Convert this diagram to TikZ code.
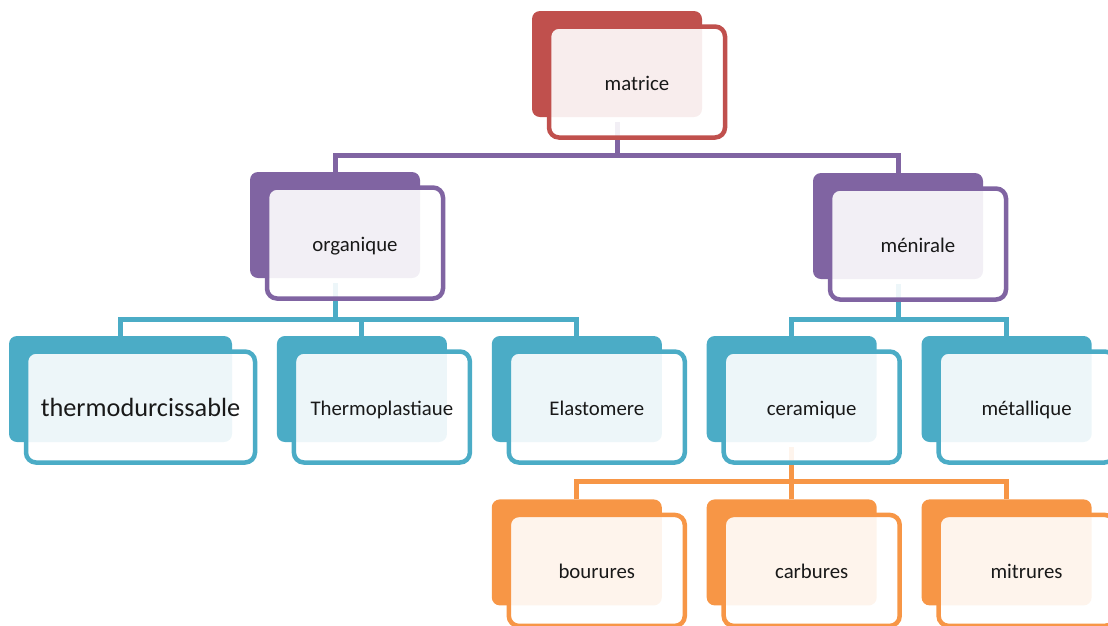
\documentclass[tikz,border=0pt]{standalone}
\usepackage{fontspec}
\setmainfont{Carlito}
\usetikzlibrary{positioning,backgrounds}

\definecolor{matred}{HTML}{C0504D}
\definecolor{lvlpurple}{HTML}{8064A2}
\definecolor{lvlcyan}{HTML}{4BACC6}
\definecolor{lvlorange}{HTML}{F79646}

\begin{document}
\begin{tikzpicture}[x=1pt,y=-1pt,
  font=\fontsize{20.8}{25}\selectfont,
  back/.style={rectangle,rounded corners=8pt,fill=#1,inner sep=0pt,
    minimum width=170pt,minimum height=106pt},
  card/.style={rectangle,rounded corners=10pt,draw=#1,line width=4.5pt,
    fill=white,fill opacity=0.9,text opacity=1,text=black!90,inner sep=0pt,
    text height=16pt,text depth=0pt,
    minimum width=176pt,minimum height=111pt},
  link/.style={draw=#1,line width=5pt},
  elbow/.style={to path={-- ++(0,#1) -| (\tikztotarget)}}]

  \useasboundingbox (0,0) rectangle (1108,625);

  % back plates
  \node[back=matred] (mat) at (617,64) {};
  \node[back=lvlpurple] (org) at (335,225) {};
  \node[back=lvlpurple] (men) at (898,226) {};
  \node[back=lvlcyan,minimum width=223pt] (thermo) at (120.5,389) {};
  \node[back=lvlcyan] (plast) [right=44.5pt of thermo] {};
  \node[back=lvlcyan] (elast) [right=44.5pt of plast] {};
  \node[back=lvlcyan] (cera) [right=44.5pt of elast] {};
  \node[back=lvlcyan] (metal) [right=44.5pt of cera] {};
  \node[back=lvlorange] (bour) [below=57pt of elast] {};
  \node[back=lvlorange] (carb) [below=57pt of cera] {};
  \node[back=lvlorange] (mitr) [below=57pt of metal] {};

  % framed cards with the labels
  \node[card=matred] (mat-f) at ([shift={(20,18)}]mat) {matrice};
  \node[card=lvlpurple] (org-f) at ([shift={(20,18)}]org) {organique};
  \node[card=lvlpurple] (men-f) at ([shift={(20,18)}]men) {ménirale};
  \node[card=lvlcyan,minimum width=229pt,text height=19.5pt,
    font=\fontsize{26.3}{30}\selectfont]
    (thermo-f) at ([shift={(20,18)}]thermo) {thermodurcissable};
  \node[card=lvlcyan] (plast-f) at ([shift={(20,18)}]plast) {Thermoplastiaue};
  \node[card=lvlcyan] (elast-f) at ([shift={(20,18)}]elast) {Elastomere};
  \node[card=lvlcyan] (cera-f) at ([shift={(20,18)}]cera) {ceramique};
  \node[card=lvlcyan] (metal-f) at ([shift={(20,18)}]metal) {métallique};
  \node[card=lvlorange] (bour-f) at ([shift={(20,18)}]bour) {bourures};
  \node[card=lvlorange] (carb-f) at ([shift={(20,18)}]carb) {carbures};
  \node[card=lvlorange] (mitr-f) at ([shift={(20,18)}]mitr) {mitrures};

  % connectors sit under the cards
  \begin{scope}[on background layer]
    \path[link=lvlpurple] ([yshift=-5pt]mat.south)
        edge[elbow=33] (org.north)
        edge[elbow=33] (men.north);
    \path[link=lvlcyan] ([yshift=-5pt]org.south)
        edge[elbow=36] (thermo.north)
        edge[elbow=36] (plast.north)
        edge[elbow=36] (elast.north);
    \path[link=lvlcyan] ([yshift=-5pt]men.south)
        edge[elbow=35] (cera.north)
        edge[elbow=35] (metal.north);
    \path[link=lvlorange] ([yshift=-5pt]cera.south)
        edge[elbow=34] (bour.north)
        edge[elbow=34] (carb.north)
        edge[elbow=34] (mitr.north);
  \end{scope}
\end{tikzpicture}
\end{document}
